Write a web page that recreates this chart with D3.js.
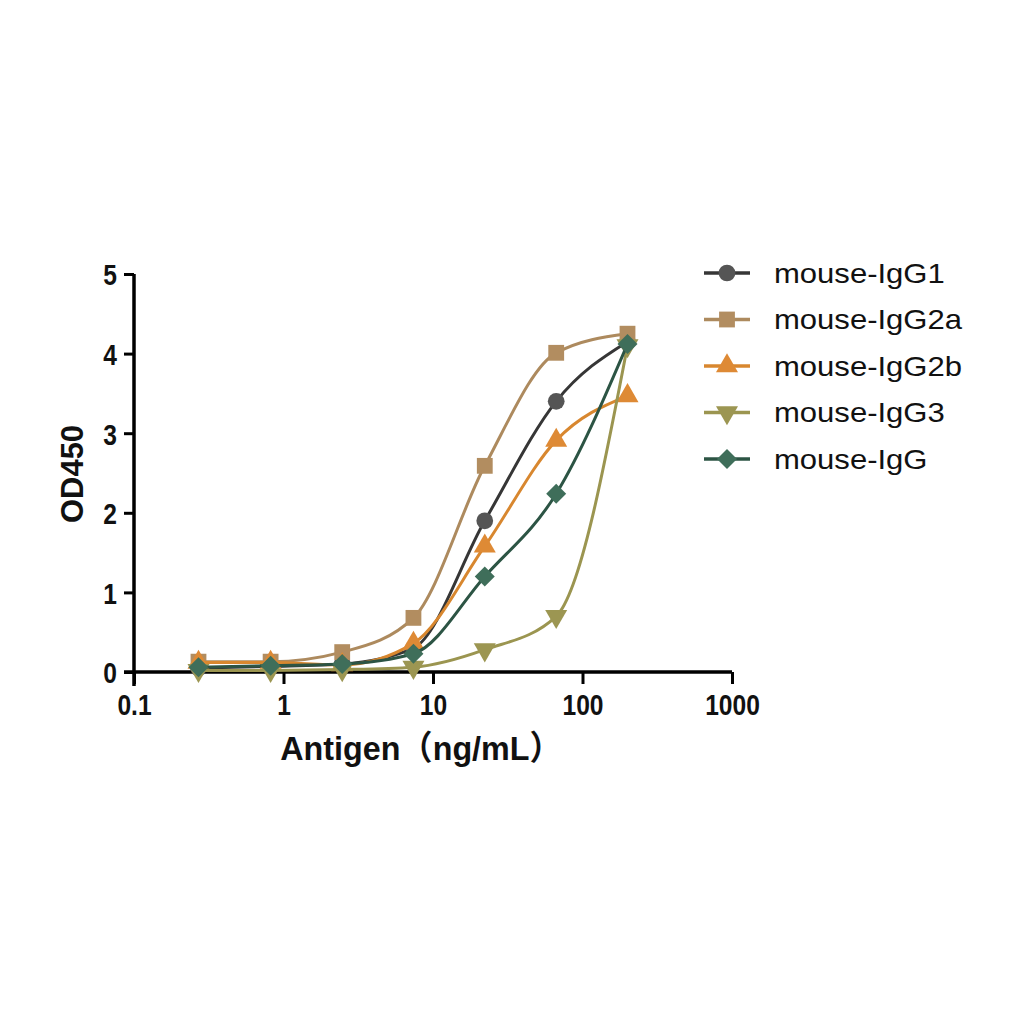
<!DOCTYPE html>
<html><head><meta charset="utf-8">
<script src="https://cdn.jsdelivr.net/npm/d3@7"></script>
<style>body{margin:0;background:#fff}svg{display:block}</style>
</head><body>
<script>
const concentrations = [0.27, 0.82, 2.47, 7.4, 22.2, 66.7, 200];
const seriesNames = ["mouse-IgG1","mouse-IgG2a","mouse-IgG2b","mouse-IgG3","mouse-IgG"];
const igg1  = [0.05, 0.07, 0.10, 0.30, 1.90, 3.40, 4.15];
const igg2a = [0.13, 0.13, 0.25, 0.68, 2.59, 4.01, 4.25];
const igg2b = [0.12, 0.12, 0.09, 0.36, 1.58, 2.91, 3.47];
const igg3  = [0.02, 0.02, 0.03, 0.06, 0.28, 0.70, 4.10];
const iggAll= [0.06, 0.08, 0.10, 0.23, 1.20, 2.24, 4.12];
const xTicks = [0.1, 1, 10, 100, 1000];
const yTicks = [0, 1, 2, 3, 4, 5];

const seriesValues = [igg1, igg2a, igg2b, igg3, iggAll];
const lineColors = ["#363636","#ad8a5e","#d8872f","#9b9550","#2c5444"];
const fillColors = ["#555555","#b28d60","#de8a35","#9c9652","#3f6e5a"];
const shapes = ["circle","square","up","down","diamond"];
const sizes = [220, 250, 210, 210, 200];

const svg = d3.select("body").append("svg").attr("width",1024).attr("height",1024);
const x = d3.scaleLog().domain([0.1,1000]).range([134,732]);
const y = d3.scaleLinear().domain([0,5]).range([672,274]);
const font = "'Liberation Sans', Arial, 'Noto Sans CJK SC', sans-serif";

function symPath(shape){
  const i = shapes.indexOf(shape);
  const t = shape==="circle"?d3.symbolCircle:(shape==="up"||shape==="down")?d3.symbolTriangle:d3.symbolSquare;
  return d3.symbol().type(t).size(sizes[i])();
}
function symRot(shape){ return shape==="down"?" rotate(180)":shape==="diamond"?" rotate(45)":""; }

// axes
const xa = svg.append("g").attr("transform","translate(0,672)")
  .call(d3.axisBottom(x).tickValues(xTicks).tickFormat(d=>String(d)).tickSize(12).tickSizeOuter(0));
xa.select(".domain").attr("stroke","#000").attr("stroke-width",3.5).attr("d","M124,0H732");
xa.selectAll(".tick line").attr("stroke","#000").attr("stroke-width",3);
xa.selectAll(".tick text").attr("font-family",font).attr("font-weight","bold").attr("font-size",30)
  .attr("fill","#111").attr("y",43).attr("dy",null).attr("transform","scale(0.82,1)");

const ya = svg.append("g").attr("transform","translate(134,0)")
  .call(d3.axisLeft(y).tickValues(yTicks).tickFormat(d3.format("d")).tickSize(10).tickSizeOuter(0));
ya.select(".domain").attr("stroke","#000").attr("stroke-width",3.5).attr("d","M0,274V686");
ya.selectAll(".tick line").attr("stroke","#000").attr("stroke-width",3);
ya.selectAll(".tick text").attr("font-family",font).attr("font-weight","bold").attr("font-size",30)
  .attr("fill","#111").attr("x",-17/0.82).attr("dy","0.36em").attr("transform","scale(0.82,1)");

svg.append("text").attr("transform","translate(83,474) rotate(-90)").attr("text-anchor","middle")
  .attr("font-family",font).attr("font-weight","bold").attr("font-size",31).attr("fill","#111").text("OD450");
svg.append("text").attr("transform","translate(421,760) scale(0.95,1)").attr("text-anchor","middle")
  .attr("font-family",font).attr("font-weight","bold").attr("font-size",34).attr("fill","#111").text("Antigen（ng/mL）");

const line = d3.line().x(d=>x(d[0])).y(d=>y(d[1])).curve(d3.curveMonotoneX);

seriesValues.forEach((vals,i)=>{
  const pts = concentrations.map((c,j)=>[c, vals[j]]);
  const g = svg.append("g");
  g.append("path").attr("d", line(pts)).attr("fill","none").attr("stroke",lineColors[i]).attr("stroke-width",3);
  g.selectAll("path.m").data(pts).join("path").attr("class","m")
    .attr("d", symPath(shapes[i]))
    .attr("transform", d=>`translate(${x(d[0])},${y(d[1])})${symRot(shapes[i])}`)
    .attr("fill", fillColors[i]);
});

// legend
const lg = svg.append("g");
seriesNames.forEach((name,i)=>{
  const yy = 273 + i*46.5;
  lg.append("line").attr("x1",704).attr("x2",750).attr("y1",yy).attr("y2",yy).attr("stroke",lineColors[i]).attr("stroke-width",3.5);
  lg.append("path").attr("d", symPath(shapes[i]))
    .attr("transform", `translate(727,${yy})${symRot(shapes[i])}`).attr("fill",fillColors[i]);
  lg.append("text").attr("transform",`translate(774,${yy}) scale(1.15,1)`).attr("dy","0.36em")
    .attr("font-family",font).attr("font-size",27).attr("fill","#111").text(name);
});
</script>
</body></html>
